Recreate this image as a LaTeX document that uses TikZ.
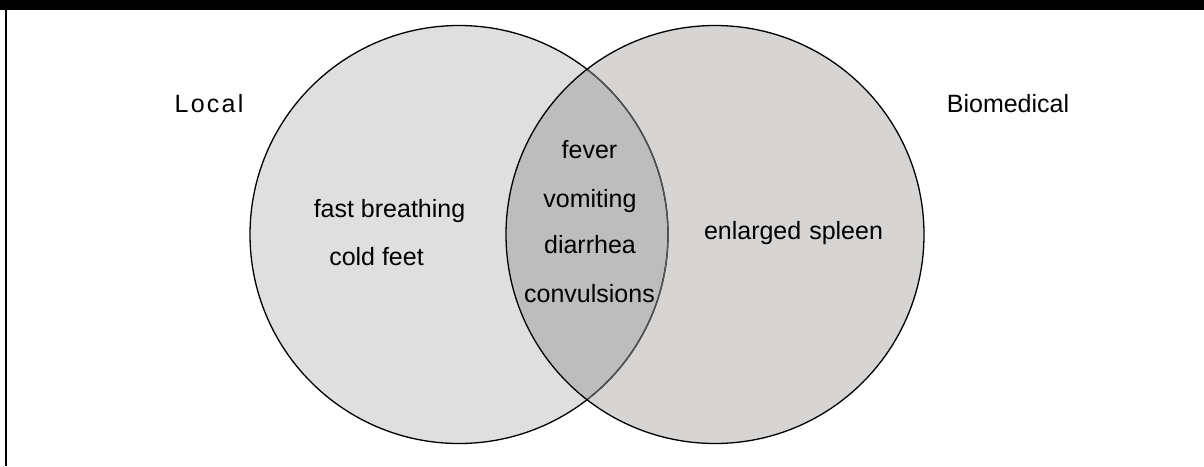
\documentclass[tikz,border=0pt]{standalone}
\usepackage{fontspec}
\setmainfont{Liberation Sans}
\definecolor{leftfill}{HTML}{DFDFDF}
\definecolor{rightfill}{HTML}{D6D5D4}
\definecolor{lensfill}{HTML}{BDBDBD}
\definecolor{lensedge}{HTML}{555555}
\tikzset{
  lbl/.style={anchor=base, inner sep=0pt, font=\fontsize{25}{29}\selectfont},
  ttl/.style={anchor=base, inner sep=0pt, font=\fontsize{25}{29}\selectfont\addfontfeatures{LetterSpace=9}},
  ring/.style={line width=1.3pt},
}
\begin{document}
\begin{tikzpicture}[x=1pt,y=-1pt]
\useasboundingbox (0,0) rectangle (1204,466);
\fill[white] (0,0) rectangle (1204,466);
% frame
\fill[black] (0,0) rectangle (1204,9.5);
\fill[black] (5,0) rectangle (7.2,466);
% circles
\coordinate (cl) at (459,234.5);
\coordinate (cr) at (715,234.5);
\fill[leftfill] (cl) circle[radius=209pt];
\fill[rightfill] (cr) circle[radius=209pt];
\begin{scope}
  \clip (cl) circle[radius=209pt];
  \fill[lensfill] (cr) circle[radius=209pt];
\end{scope}
\draw[ring] (cl) circle[radius=209pt];
\begin{scope}
  \clip (cr) circle[radius=209pt];
  \draw[ring, lensedge] (cl) circle[radius=209pt];
\end{scope}
\draw[ring] (cr) circle[radius=209pt];
% labels
\node[ttl] (local) at (209,112) {Local};
\node[lbl] (bio) at (1008,112) {Biomedical};
\node[lbl] (fast) at (389.5,217) {fast breathing};
\node[lbl] (cold) at (376.5,265) {cold feet};
\node[lbl] (fever) at (589.5,158) {fever};
\node[lbl] (vom) at (590,207) {vomiting};
\node[lbl] (dia) at (590,253) {diarrhea};
\node[lbl] (conv) at (589.5,302) {convulsions};
\node[lbl] (spleen) at (793.5,239) {enlarged\hspace{8pt}spleen};
\end{tikzpicture}
\end{document}
